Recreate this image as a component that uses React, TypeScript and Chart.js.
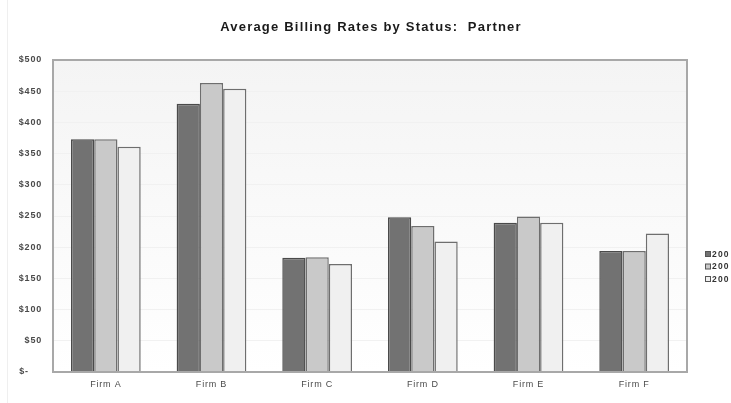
import React, { useEffect, useRef } from "react";
import { Chart, registerables } from "chart.js";

Chart.register(...registerables);

const firms = ["Firm A", "Firm B", "Firm C", "Firm D", "Firm E", "Firm F"];
const seriesLabels = ["200", "200", "200"];
const rates1 = [373, 430, 183, 248, 239, 194];
const rates2 = [373, 463, 184, 234, 249, 194];
const rates3 = [361, 454, 173, 209, 239, 222];
const fills = ["#727272", "#c9c9c9", "#f0f0f0"];
const yTicks = [0, 50, 100, 150, 200, 250, 300, 350, 400, 450, 500];
const titleText = "Average Billing Rates by Status:  Partner";

const W = 731;
const H = 403;
const FONT = "'Liberation Sans', Arial, sans-serif";

// Axis labels in this chart are slightly tracked out.
const spacingPlugin = {
  id: "spacing",
  beforeLayout(chart: any) {
    (chart.ctx as any).letterSpacing = "0.8px";
  },
  beforeDraw(chart: any) {
    (chart.ctx as any).letterSpacing = "0.8px";
  },
};

const framePlugin = {
  id: "frame",
  beforeDraw(chart: any) {
    const { ctx, chartArea: a } = chart;
    ctx.save();
    ctx.fillStyle = "#ffffff";
    ctx.fillRect(0, 0, chart.width, chart.height);
    const g = ctx.createLinearGradient(0, a.top, 0, a.bottom);
    g.addColorStop(0, "#f4f4f4");
    g.addColorStop(1, "#ffffff");
    ctx.fillStyle = g;
    ctx.fillRect(a.left, a.top, a.right - a.left, a.bottom - a.top);
    ctx.restore();
  },
  afterDraw(chart: any) {
    const { ctx, chartArea: a } = chart;
    ctx.save();
    ctx.strokeStyle = "#a8a8a8";
    ctx.lineWidth = 2;
    ctx.strokeRect(a.left, a.top, a.right - a.left, a.bottom - a.top);

    // faint outer border
    ctx.strokeStyle = "#efefef";
    ctx.lineWidth = 1;
    ctx.beginPath();
    ctx.moveTo(7.5, 0);
    ctx.lineTo(7.5, chart.height);
    ctx.stroke();

    // title
    ctx.fillStyle = "#1a1a1a";
    ctx.font = `bold 13px ${FONT}`;
    (ctx as any).letterSpacing = "1.2px";
    ctx.textAlign = "center";
    ctx.textBaseline = "middle";
    ctx.fillText(titleText, 371, 27);

    // legend
    ctx.font = `bold 8.5px ${FONT}`;
    (ctx as any).letterSpacing = "1.2px";
    ctx.textAlign = "left";
    chart.data.datasets.forEach((ds: any, i: number) => {
      const y = 254 + i * 12.5;
      ctx.fillStyle = ds.backgroundColor;
      ctx.fillRect(705.5, y - 2.5, 5, 5);
      ctx.strokeStyle = "#555555";
      ctx.lineWidth = 1;
      ctx.strokeRect(705.5, y - 2.5, 5, 5);
      ctx.fillStyle = "#333333";
      ctx.fillText(ds.label, 712, y + 0.5);
    });
    ctx.restore();
  },
};

export default function App() {
  const ref = useRef<HTMLCanvasElement | null>(null);

  useEffect(() => {
    if (!ref.current) return;
    const mk = (label: string, data: number[], i: number) => ({
      label,
      data,
      backgroundColor: fills[i],
      borderColor: i === 0 ? "#4a4a4a" : "#6e6e6e",
      borderWidth: 1.5,
      categoryPercentage: 0.66,
      barPercentage: 1.0,
    });
    const chart = new Chart(ref.current, {
      type: "bar",
      data: {
        labels: firms,
        datasets: [
          mk(seriesLabels[0], rates1, 0),
          mk(seriesLabels[1], rates2, 1),
          mk(seriesLabels[2], rates3, 2),
        ],
      },
      options: {
        animation: false,
        responsive: false,
        devicePixelRatio: 1,
        layout: { padding: { top: 60, right: 44, left: 0, bottom: 0 } },
        plugins: {
          legend: { display: false },
          title: { display: false },
          tooltip: { enabled: false },
        },
        scales: {
          x: {
            grid: { display: false, drawTicks: false },
            border: { display: false },
            ticks: {
              color: "#4a4a4a",
              font: { family: FONT, size: 9 },
              padding: 7,
            },
            afterFit(axis: any) {
              axis.height = 31;
            },
          },
          y: {
            min: 0,
            max: 500,
            afterBuildTicks(axis: any) {
              axis.ticks = yTicks.map((v) => ({ value: v }));
            },
            grid: { color: "#f1f1f1", drawTicks: false, lineWidth: 1 },
            border: { display: false },
            ticks: {
              color: "#4a4a4a",
              font: { family: FONT, size: 9, weight: "bold" },
              padding: 11,
              callback: (v: any) => (Number(v) === 0 ? "$-    " : `$${v}`),
            },
            afterFit(axis: any) {
              axis.width = 53;
            },
          },
        },
      },
      plugins: [spacingPlugin, framePlugin],
    } as any);
    return () => chart.destroy();
  }, []);

  return (
    <div style={{ position: "fixed", left: 0, top: 0, width: W, height: H, background: "#fff" }}>
      <canvas ref={ref} width={W} height={H} style={{ display: "block", width: W, height: H }} />
    </div>
  );
}
